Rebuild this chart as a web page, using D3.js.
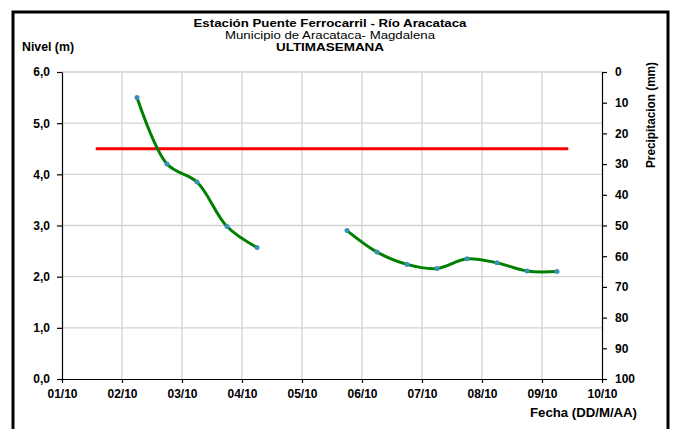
<!DOCTYPE html>
<html><head><meta charset="utf-8">
<script src="https://cdn.jsdelivr.net/npm/d3@7"></script>
<style>
body{margin:0;background:#fff;}
svg{display:block;font-family:"Liberation Sans",Arial,sans-serif;}
</style></head>
<body><svg id="c" width="675" height="429"></svg>
<script>
// ---- data ----
const fechas = ["02/10 06:00","02/10 18:00","03/10 06:00","03/10 18:00","04/10 06:00","04/10 18:00","05/10 06:00","05/10 18:00","06/10 06:00","06/10 18:00","07/10 06:00","07/10 18:00","08/10 06:00","08/10 18:00","09/10 06:00"];
const nivel = [5.50,4.20,3.85,2.98,2.57,null,null,2.90,2.48,2.24,2.16,2.35,2.27,2.11,2.10];
const umbralFechas = ["01/10 13:30","09/10 10:30"];
const umbralValor = [4.5,4.5];
const xTicks = ["01/10","02/10","03/10","04/10","05/10","06/10","07/10","08/10","09/10","10/10"];
const yTicks = [0,1,2,3,4,5,6];
const precTicks = [0,10,20,30,40,50,60,70,80,90,100];
const titulo1 = "Estación Puente Ferrocarril - Río Aracataca";
const titulo2 = "Municipio de Aracataca- Magdalena";
const titulo3 = "ULTIMASEMANA";

// ---- layout ----
const L=62,R=602,T=72,B=379;
const parse = d3.utcParse("%d/%m/%Y %H:%M");
const p = s => parse(s.slice(0,5)+"/2013"+s.slice(5));
const pd = s => parse(s+"/2013 00:00");
const svg = d3.select("#c");

const x = d3.scaleUtc().domain([pd(xTicks[0]), pd(xTicks[xTicks.length-1])]).range([L,R]);
const y = d3.scaleLinear().domain([0,6]).range([B,T]);
const y2 = d3.scaleLinear().domain([0,100]).range([T,B]);

// frame
svg.append("rect").attr("x",13).attr("y",12).attr("width",655).attr("height",440)
  .attr("fill","none").attr("stroke","#000").attr("stroke-width",3);

// grid
const g = svg.append("g");
g.selectAll(".vg").data(xTicks.slice(1,-1)).join("line")
  .attr("x1",d=>x(pd(d))).attr("x2",d=>x(pd(d))).attr("y1",T).attr("y2",B)
  .attr("stroke","#d3d3d3").attr("stroke-width",1.3);
g.selectAll(".hg").data(yTicks.slice(1)).join("line")
  .attr("x1",L).attr("x2",R).attr("y1",d=>y(d)).attr("y2",d=>y(d))
  .attr("stroke","#d3d3d3").attr("stroke-width",1.3);

// axes
const fmt = d => d.toFixed(1).replace(".",",");
const styleAxis = sel => {
  sel.selectAll("text").attr("font-size",12).attr("font-weight","bold").attr("fill","#000")
    .attr("font-family","'Liberation Sans',Arial,sans-serif");
  sel.selectAll("line,path").attr("stroke","#000").attr("stroke-width",1.2);
};
svg.append("g").attr("transform",`translate(${L},0)`)
  .call(d3.axisLeft(y).tickValues(yTicks).tickFormat(fmt).tickSize(5).tickPadding(7).tickSizeOuter(0))
  .call(styleAxis);
svg.append("g").attr("transform",`translate(${R},0)`)
  .call(d3.axisRight(y2).tickValues(precTicks).tickSize(5).tickPadding(8).tickSizeOuter(0))
  .call(styleAxis);
svg.append("g").attr("transform",`translate(0,${B})`)
  .call(d3.axisBottom(x).tickValues(xTicks.map(pd)).tickFormat(d3.utcFormat("%d/%m")).tickSize(4).tickPadding(6).tickSizeOuter(0))
  .call(styleAxis);

// threshold line
const uData = umbralFechas.map((f,i)=>({t:p(f),v:umbralValor[i]}));
svg.append("path").datum(uData)
  .attr("d",d3.line().x(d=>x(d.t)).y(d=>y(d.v)))
  .attr("stroke","#ff0000").attr("stroke-width",3).attr("fill","none");

// level line
const data = fechas.map((f,i)=>({t:p(f),v:nivel[i]}));
svg.append("path").datum(data)
  .attr("d",d3.line().defined(d=>d.v!=null).x(d=>x(d.t)).y(d=>y(d.v)).curve(d3.curveCatmullRom.alpha(0.5)))
  .attr("stroke","#008000").attr("stroke-width",3).attr("fill","none");
svg.selectAll(".pt").data(data.filter(d=>d.v!=null)).join("circle")
  .attr("cx",d=>x(d.t)).attr("cy",d=>y(d.v)).attr("r",2.5).attr("fill","#3b8fb8");

// texts
const txt = (s,xx,yy,opt={}) => {
  const t = svg.append("text").text(s).attr("x",xx).attr("y",yy)
    .attr("font-size",opt.size||11.5).attr("font-weight",opt.bold===false?"normal":"bold")
    .attr("text-anchor",opt.anchor||"start").attr("fill","#000");
  if (opt.len) t.attr("textLength",opt.len).attr("lengthAdjust","spacingAndGlyphs");
  return t;
};
txt(titulo1,330,27,{anchor:"middle",size:11.5,len:273});
txt(titulo2,330,39,{anchor:"middle",bold:false,size:11.5,len:210});
txt(titulo3,330,51,{anchor:"middle",size:11.5,len:108});
txt("Nivel (m)",22,51,{size:12,len:52});
txt("Fecha (DD/M/AA)",637,417,{anchor:"end",size:12,len:107});
txt("Precipitacion (mm)",0,0,{anchor:"middle",size:12,len:106}).attr("transform","translate(655,115) rotate(-90)");
</script></body></html>
